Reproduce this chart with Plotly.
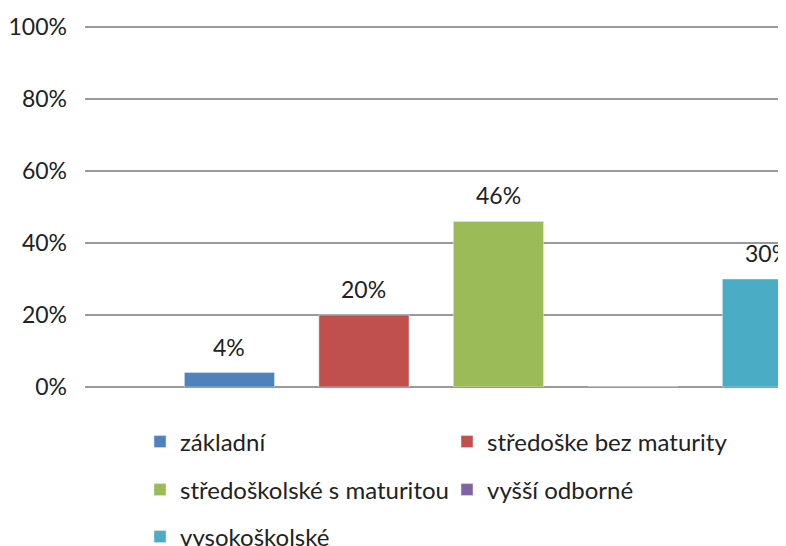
import plotly.graph_objects as go

categories = ["základní", "středoške bez maturity", "středoškolské s maturitou", "vyšší odborné", "vysokoškolské"]
values = [4, 20, 46, 0, 30]
labels = ["4%", "20%", "46%", "", "30%"]
colors = ["#4F81BD", "#C0504D", "#9BBB59", "#8064A2", "#4BACC6"]
legend_ids = ["legend", "legend", "legend2", "legend2", "legend3"]
y_ticks = [0, 20, 40, 60, 80, 100]

FONT = "Lato"
TXT = "#222222"
# page body keeps an 8px margin, so the figure is 8px smaller and shifted
OFF = 8
W, H = 786 - OFF, 546 - OFF

fig = go.Figure()
for i, name in enumerate(categories):
    fig.add_trace(go.Bar(
        x=[i], y=[values[i]],
        name=name, marker_color=colors[i], width=0.67,
        legend=legend_ids[i], showlegend=True,
    ))
    if labels[i]:
        fig.add_annotation(x=i, y=values[i], text=labels[i], showarrow=False,
                           yshift=26, font=dict(family=FONT, size=23, color=TXT))

leg_common = dict(orientation="h", xref="container", yref="container",
                  xanchor="left", yanchor="middle", entrywidth=262,
                  font=dict(family=FONT, size=24, color=TXT),
                  bgcolor="rgba(0,0,0,0)", itemclick=False)
leg_x = (140 - OFF) / W
fig.update_layout(
    width=W, height=H,
    margin=dict(l=85 - OFF, r=0, t=26 - OFF, b=H - (387 - OFF), autoexpand=False),
    paper_bgcolor="white", plot_bgcolor="white",
    xaxis=dict(range=[-1.074, 4.138], showticklabels=False, showgrid=False,
               zeroline=False, fixedrange=True, automargin=False),
    yaxis=dict(range=[0, 100.3], tickvals=y_ticks,
               ticktext=[f"{v}%" for v in y_ticks], automargin=False,
               showgrid=True, gridcolor="#9a9a9a", gridwidth=2,
               zeroline=True, zerolinecolor="#9a9a9a", zerolinewidth=2,
               ticklabelstandoff=17,
               tickfont=dict(family=FONT, size=23, color=TXT)),
    legend=dict(x=leg_x, y=(H - (442 - OFF)) / H, **leg_common),
    legend2=dict(x=leg_x, y=(H - (490 - OFF)) / H, **leg_common),
    legend3=dict(x=leg_x, y=(H - (537 - OFF)) / H, **leg_common),
    showlegend=True,
)

fig.write_html("out.html")
